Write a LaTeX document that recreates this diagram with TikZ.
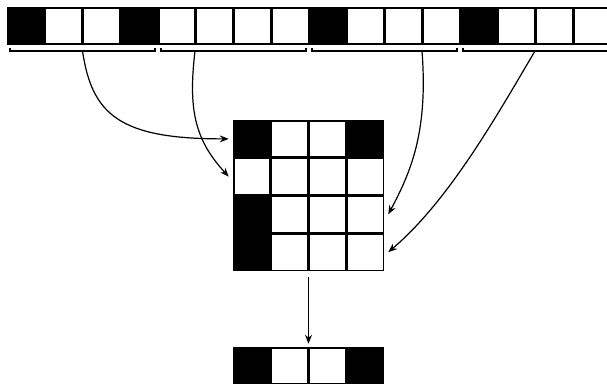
\documentclass[tikz,border=0pt]{standalone}
\usetikzlibrary{arrows.meta,calc}
\begin{document}
\begin{tikzpicture}[x=1pt,y=-1pt,
  cell/.style={draw=black,line width=1.5pt,inner sep=0pt,outer sep=0pt,
    minimum size=36.25pt,anchor=north west},
  bracket/.style={draw=black,line width=1.4pt},
  arr/.style={draw=black,line width=1.2pt,
    -{Stealth[length=9pt,width=7pt,inset=3pt]}}]
\useasboundingbox (0,0) rectangle (607,383);
% top row
\foreach \f [count=\i from 0] in {black,white,white,black,white,white,white,white,black,white,white,white,black,white,white,white}{
  \node[cell,fill=\f] (t\i) at ({7+37.75*\i+0.75},{7+0.75}) {};
}
% grid
\foreach \f [count=\i from 0] in {black,white,white,black,white,white,white,white,black,white,white,white,black,white,white,white}{
  \pgfmathtruncatemacro\r{div(\i,4)}
  \pgfmathtruncatemacro\c{mod(\i,4)}
  \node[cell,fill=\f] (g\r\c) at ({233+37.75*\c+0.75},{120+37.75*\r+0.75}) {};
}
% bottom row
\foreach \f [count=\i from 0] in {black,white,white,black}{
  \node[cell,fill=\f] (b\i) at ({233+37.75*\i+0.75},{347+0.75}) {};
}
% brackets
\foreach \k in {0,1,2,3}{
  \draw[bracket] ({7+151*\k+3},48) -- ({7+151*\k+3},51) -- ({7+151*\k+148},51) -- ({7+151*\k+148},48);
}
% start points on brackets
\coordinate (s1) at (82.5,51);
\coordinate (s2) at (195,51);
\coordinate (s3) at (422,51);
\coordinate (s4) at (535,51);
% end points next to the grid
\coordinate (e1) at ([xshift=-5pt]g00.west);
\coordinate (e2) at ([xshift=-5pt]g10.west);
\coordinate (e3) at ([xshift=5pt]g23.east);
\coordinate (e4) at ([xshift=5pt]g33.east);
\draw[arr] (s1) .. controls (92,115) and (120,139) .. (e1);
\draw[arr] (s2) .. controls (188,110) and (195,140) .. (e2);
\draw[arr] (s3) .. controls (428,130) and (412,170) .. (e3);
\draw[arr] (s4) .. controls (500,110) and (450,200) .. (e4);
% down arrow
\coordinate (d1) at ($($(g31.south east)!0.5!(g32.south west)$)+(0,7)$);
\coordinate (d2) at ($($(b1.north east)!0.5!(b2.north west)$)+(0,-4)$);
\draw[arr] (d1) -- (d2);
\end{tikzpicture}
\end{document}
